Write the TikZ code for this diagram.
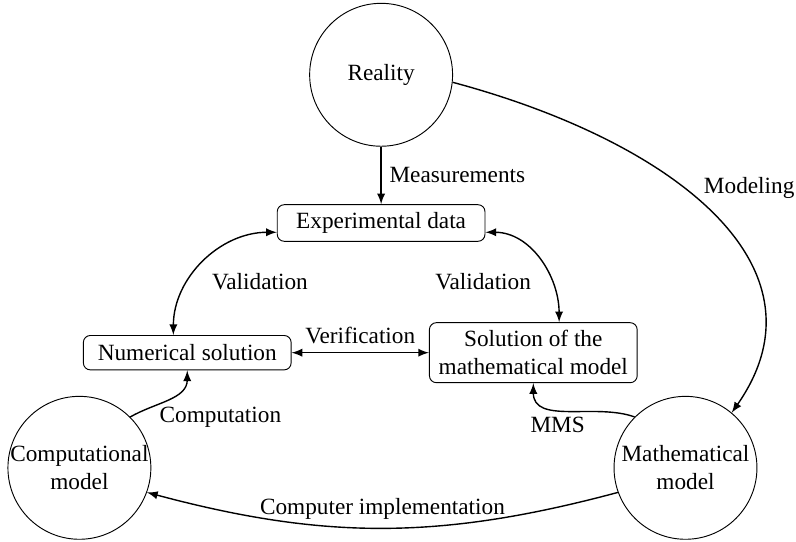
\documentclass[tikz,border=0pt]{standalone}
\usepackage{fontspec}
\setmainfont{Liberation Serif}

\begin{document}
\begin{tikzpicture}[>=latex,
    stage/.style={draw,circle,thin,align=center,minimum size=2.16cm,inner sep=-1.5pt},
    result/.style={draw,rectangle,rounded corners=3pt,thin,align=center,minimum width=3.14cm,minimum height=0.52cm},
    link/.style={semithick,->}]
      \useasboundingbox (-5.76,1.13) rectangle (6.27,-7.06);
      \node[stage] (real) {Reality};
      \node[result,below of=real,yshift=-1.24cm] (exp) {Experimental data};
      \node[result,below of=exp,xshift=-2.93cm,yshift=-0.96cm] (num) {Numerical solution};
      \node[result,below of=exp,xshift=2.30cm,yshift=-0.96cm] (sol) {Solution of the\\mathematical model};
      \node[stage,below of=num,xshift=-1.63cm,yshift=-0.74cm] (comp) {Computational\\model};
      \node[stage,below of=sol,xshift=2.30cm,yshift=-0.74cm] (math) {Mathematical\\model};
      %% From reality
      \draw[link] (real) -- node[right] {Measurements} (exp);
      \draw[link] (real.-6) to[out=-15,in=55,out looseness=1.35,in looseness=1.06] node[pos=0.42,right=5pt] {Modeling} (math.50);
      %% Validation and verification
      \draw[link,<->] ([yshift=-0.14cm]exp.west) to[out=180,in=90] node[below right,yshift=-1pt] {Validation} ([xshift=-0.21cm]num.north);
      \draw[link,<->] ([yshift=-0.14cm]exp.east) to[out=0,in=90] node[below left,yshift=-2pt] {Validation} ([xshift=0.39cm]sol.north);
      \draw[link,<->] (num) -- node[above] {Verification} (sol);
      %% Models to solutions
      \draw[link] (comp.45) to[out=30,in=-90] node[pos=0.3,below right,yshift=3pt,xshift=-1pt] {Computation} (num);
      \draw[link] (math.135) to[out=160,in=-90] node[pos=0.6,below] {MMS} (sol);
      \draw[link] (math.200) to[out=195,in=-15] node[above] {Computer implementation} (comp.-20);
\end{tikzpicture}
\end{document}
